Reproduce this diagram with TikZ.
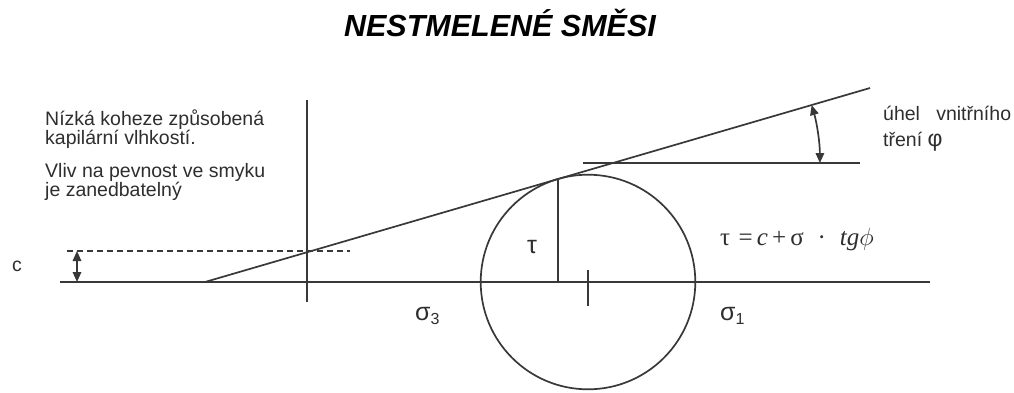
\documentclass[tikz,border=0pt]{standalone}
\usepackage[no-math]{fontspec}
\setmainfont{Liberation Sans}
\newfontfamily\eqserif{Liberation Serif}
\usetikzlibrary{arrows.meta,calc}
\begin{document}
\begin{tikzpicture}[x=1pt,y=-1pt,
  ln/.style={line width=1.7pt, draw=black!78},
  lbl/.style={inner sep=0pt, anchor=base west, text=black!82},
  body/.style={lbl, font=\fontsize{19.5}{22}\selectfont},
  greek/.style={lbl, font=\fontsize{25}{28}\selectfont},
  dbl/.style={{Triangle[length=10pt,width=8.5pt]}-{Triangle[length=10pt,width=8.5pt]}},
  dashline/.style={ln, dash pattern=on 6pt off 4pt}]
\useasboundingbox (0,0) rectangle (1014,392);

% title
\node[inner sep=0pt, anchor=base] (title) at (500,36.7)
  {\fontsize{30.5}{34}\selectfont\bfseries\itshape NESTMELENÉ SMĚSI};

% left notes
\node[body] (l1) at (45,125) {Nízká koheze způsobená};
\node[body] (l2) at (45,144) {kapilární vlhkostí.};
\node[body] (l3) at (45,177) {Vliv na pevnost ve smyku};
\node[body] (l4) at (45,196) {je zanedbatelný};
\node[body] (clab) at (12,271) {c};

% right notes
\node[body] (r1) at (883,120) {úhel~~~vnitřního};
\node[body] (r2) at (883,146) {tření {\fontsize{23}{26}\selectfont φ}};

% coordinates
\coordinate (axL) at (60,282);
\coordinate (axR) at (930,282);
\coordinate (vT) at (307,100);
\coordinate (vB) at (307,302);
\coordinate (A) at (205,282);
\coordinate (B) at (870,88);
\coordinate (dL) at (67,251);
\coordinate (dR) at (350,251);
\coordinate (cT) at (77,251);
\coordinate (cB) at (77,282);
\coordinate (C) at (588,282);
\coordinate (T) at (557.9,179.0);
\coordinate (tkT) at (588,270);
\coordinate (tkB) at (588,306);
\coordinate (hL) at (583,163);
\coordinate (hR) at (860,163);
\coordinate (P) at (612.9,163);

% axes and lines
\draw[ln] (axL) -- (axR);
\draw[ln] (vT) -- (vB);
\draw[ln] (A) -- (B);
\draw[dashline] (dL) -- (dR);
\draw[ln, dbl] (cT) -- (cB);
\draw[ln] (C) circle[radius=107.3];
\draw[ln] (T) -- (T |- C);
\draw[ln] (tkT) -- (tkB);
\draw[ln] (hL) -- (hR);
\draw[ln, dbl] ($(P)+(207,0)$) arc[start angle=0, end angle=-16.26, radius=207];

% labels
\node[greek] (tau) at (527,253) {τ};
\node[greek] (s3) at (415,320) {σ\raisebox{-4pt}{\fontsize{16}{18}\selectfont 3}};
\node[greek] (s1) at (720,320) {σ\raisebox{-4pt}{\fontsize{16}{18}\selectfont 1}};
\node[lbl, font=\fontsize{25}{28}\selectfont\eqserif] (eq) at (720,245)
  {τ\,\,=\,\textit{c}\,+\,σ\;\;·\;\;\textit{tg}{\fontsize{24}{28}\selectfont$\phi$}};
\end{tikzpicture}
\end{document}
